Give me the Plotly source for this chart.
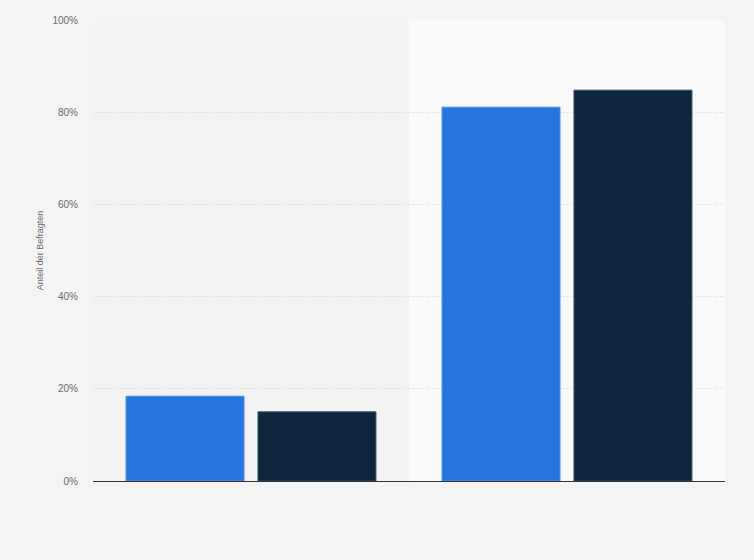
import plotly.graph_objects as go

# two answer groups, labels are not shown in the chart
categories = ['Gruppe 1', 'Gruppe 2']
series_a = [18.4, 81.1]
series_b = [15.0, 84.8]
y_ticks = [0, 20, 40, 60, 80, 100]
y_tick_text = ['0%', '20%', '40%', '60%', '80%', '100%']

fig = go.Figure()
fig.add_trace(go.Bar(x=categories, y=series_a, name='Serie A',
                     marker=dict(color='#2876dd', line=dict(color='#4a8ce6', width=1))))
fig.add_trace(go.Bar(x=categories, y=series_b, name='Serie B',
                     marker=dict(color='#10263d', line=dict(color='#3a4f63', width=1))))

# lighter band behind the second category
fig.add_shape(type='rect', xref='paper', yref='paper', x0=0.5, x1=1, y0=0, y1=1,
              fillcolor='#f9f9f9', line=dict(width=0), layer='below')

fig.update_layout(
    width=754, height=560,
    margin=dict(l=93, r=29, t=20, b=79),
    paper_bgcolor='#f4f4f4', plot_bgcolor='#f3f3f3',
    barmode='group', bargap=0.165, bargroupgap=0.106,
    showlegend=False,
    font=dict(family='Arial, Liberation Sans, sans-serif', size=10, color='#6b6b6b'),
)
fig.update_xaxes(showticklabels=False, showgrid=False, zeroline=False,
                 showline=False, ticks='')
fig.update_yaxes(range=[0, 100.02], tickvals=y_ticks, ticktext=y_tick_text,
                 showgrid=True, gridcolor='#d4d4d4', griddash='1px,2px', gridwidth=1,
                 zeroline=True, zerolinecolor='#333333', zerolinewidth=1,
                 ticks='', ticklabelstandoff=14,
                 title=dict(text='Anteil der Befragten', standoff=7,
                            font=dict(size=9, color='#6b6b6b')))

fig.write_html("out.html", config={'displayModeBar': False},
               post_script="document.body.style.margin='0';")
